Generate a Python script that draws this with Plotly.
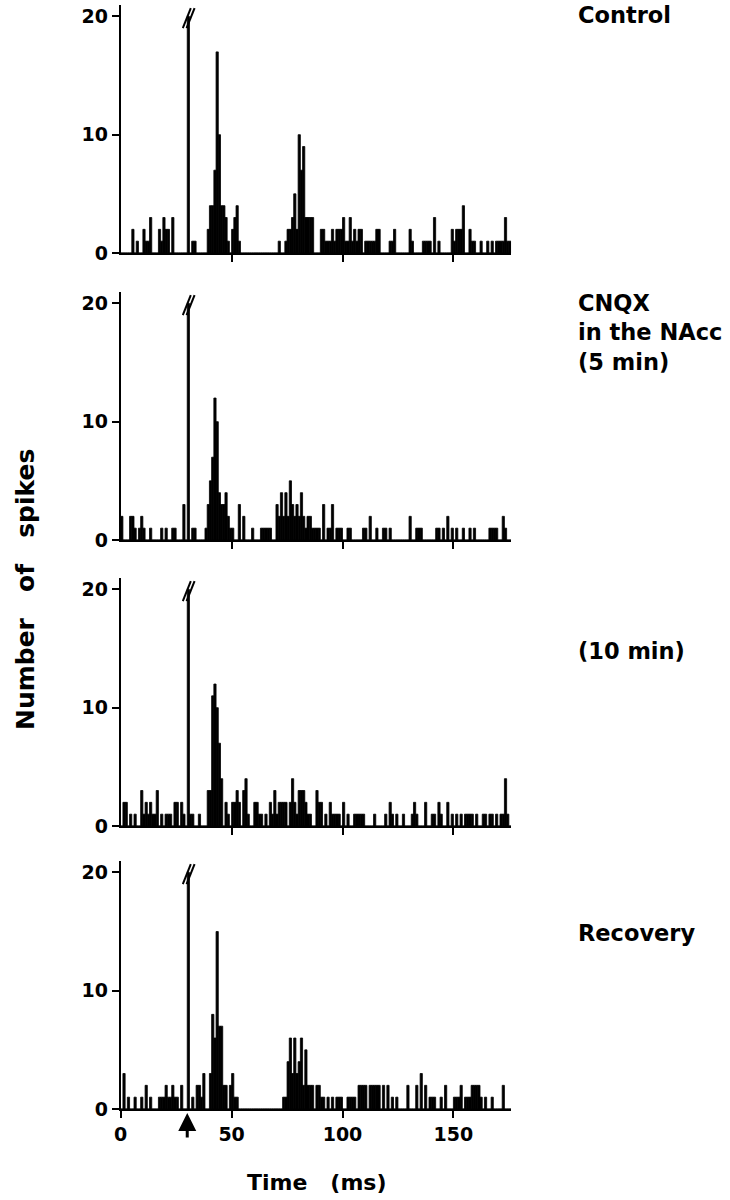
import plotly.graph_objects as go

# ---------------- data (1-ms bins, 0..175 ms) ----------------
BIN_MS = 1
TIME_MAX = 176
STIM_MS = 30

CONTROL = [
    0, 0, 0, 0, 0, 2, 0, 1, 0, 0, 2, 1, 1, 3, 0, 0, 0, 2, 1, 3,
    2, 2, 0, 3, 0, 0, 0, 0, 0, 0, 20, 0, 1, 1, 0, 0, 0, 0, 0, 2,
    4, 4, 7, 17, 10, 4, 4, 3, 1, 0, 2, 3, 4, 1, 0, 0, 0, 0, 0, 0,
    0, 0, 0, 0, 0, 0, 0, 0, 0, 0, 0, 1, 0, 0, 1, 2, 2, 3, 5, 2,
    10, 7, 9, 3, 3, 3, 3, 0, 0, 0, 2, 2, 1, 1, 1, 2, 1, 2, 2, 2,
    3, 1, 1, 3, 1, 2, 1, 2, 2, 0, 1, 1, 1, 1, 1, 2, 2, 0, 0, 0,
    0, 1, 1, 2, 0, 0, 0, 0, 0, 0, 2, 1, 0, 0, 0, 0, 1, 1, 1, 1,
    0, 3, 0, 1, 0, 0, 0, 0, 0, 2, 1, 2, 2, 2, 4, 0, 0, 2, 1, 1,
    0, 0, 1, 0, 0, 1, 0, 1, 0, 1, 1, 1, 1, 3, 1, 1,
]
CNQX_5MIN = [
    2, 0, 0, 0, 2, 2, 1, 0, 1, 2, 1, 0, 0, 1, 0, 0, 0, 0, 1, 0,
    1, 0, 0, 1, 1, 0, 0, 0, 3, 0, 20, 0, 1, 1, 0, 0, 0, 0, 1, 3,
    5, 7, 12, 10, 4, 3, 3, 4, 2, 1, 1, 0, 0, 3, 0, 2, 0, 0, 0, 1,
    0, 0, 0, 1, 1, 1, 1, 1, 0, 0, 3, 2, 4, 2, 4, 2, 5, 3, 2, 3,
    2, 4, 2, 1, 2, 2, 1, 1, 1, 1, 0, 3, 0, 1, 1, 3, 0, 1, 1, 1,
    0, 0, 1, 1, 0, 0, 0, 0, 0, 1, 1, 0, 2, 0, 0, 1, 0, 0, 1, 1,
    0, 1, 0, 0, 0, 0, 0, 0, 0, 0, 2, 0, 0, 1, 1, 1, 0, 0, 0, 0,
    0, 0, 1, 1, 0, 1, 0, 2, 0, 1, 0, 1, 0, 0, 1, 0, 0, 1, 0, 1,
    0, 0, 0, 0, 0, 0, 1, 1, 1, 1, 0, 0, 2, 1, 0, 0,
]
CNQX_10MIN = [
    0, 2, 2, 0, 1, 0, 1, 0, 0, 3, 1, 2, 1, 2, 1, 1, 3, 0, 1, 0,
    1, 1, 1, 0, 2, 2, 0, 2, 1, 0, 20, 1, 1, 0, 0, 1, 0, 0, 0, 3,
    3, 11, 12, 10, 7, 4, 0, 2, 1, 0, 2, 2, 3, 2, 0, 3, 4, 1, 0, 0,
    2, 2, 1, 1, 0, 1, 0, 2, 1, 3, 1, 2, 2, 2, 2, 0, 2, 4, 2, 1,
    3, 3, 3, 2, 1, 1, 0, 0, 3, 2, 2, 0, 1, 0, 2, 1, 1, 1, 1, 0,
    2, 0, 1, 0, 0, 1, 1, 1, 1, 1, 0, 0, 0, 0, 1, 0, 0, 0, 0, 1,
    0, 2, 1, 0, 1, 0, 0, 1, 0, 0, 0, 1, 2, 1, 0, 0, 0, 2, 0, 0,
    1, 1, 0, 2, 1, 0, 0, 2, 0, 1, 0, 1, 0, 1, 0, 1, 1, 1, 1, 0,
    1, 0, 0, 1, 1, 0, 1, 1, 0, 1, 0, 1, 1, 4, 1, 0,
]
RECOVERY = [
    0, 3, 0, 1, 0, 0, 1, 0, 0, 1, 0, 2, 0, 1, 0, 0, 0, 1, 1, 1,
    2, 1, 1, 2, 1, 1, 0, 2, 0, 0, 20, 0, 1, 0, 2, 2, 1, 3, 0, 0,
    3, 8, 6, 15, 7, 7, 2, 2, 0, 2, 3, 1, 1, 0, 0, 0, 0, 0, 0, 0,
    0, 0, 0, 0, 0, 0, 0, 0, 0, 0, 0, 0, 0, 1, 1, 4, 6, 3, 6, 3,
    4, 6, 2, 5, 2, 2, 2, 0, 2, 2, 1, 1, 0, 1, 0, 1, 0, 1, 1, 1,
    0, 0, 1, 1, 1, 1, 0, 2, 2, 2, 2, 0, 2, 2, 2, 2, 2, 0, 2, 0,
    2, 0, 1, 0, 1, 0, 0, 0, 0, 2, 0, 0, 0, 2, 0, 3, 0, 2, 0, 1,
    1, 1, 0, 0, 1, 0, 2, 0, 0, 0, 1, 1, 1, 2, 0, 1, 1, 1, 2, 2,
    2, 2, 1, 0, 1, 0, 0, 1, 0, 0, 0, 0, 2, 0, 0, 0,
]

SERIES = [CONTROL, CNQX_5MIN, CNQX_10MIN, RECOVERY]
PANEL_LABELS = ["Control", "CNQX<br>in the NAcc<br>(5 min)", "(10 min)", "Recovery"]
Y_TICKS = [0, 10, 20]
X_TICKS = [0, 50, 100, 150]
Y_MAX = 21

# ---------------- layout geometry (page pixels) ----------------
W, H = 730, 1200
PAGE_OFF = 0            # body margin is removed below, so page px == figure px
X0_PX = 120.7
PX_PER_MS = 2.218
PX_PER_UNIT = 11.83
BOTTOMS_PX = [253, 540, 826, 1109]
LABEL_X_PX = 576
LABEL_Y_PX = [(14.5, "middle"), (288, "top"), (651, "middle"), (933, "middle")]


def px_x(p):
    return (p - PAGE_OFF) / W


def px_y(p):
    return 1 - (p - PAGE_OFF) / H


FONT = "DejaVu Sans"
TICKFONT = dict(family=FONT, size=19, color="black", weight="bold")

x_domain = [px_x(X0_PX), px_x(X0_PX + TIME_MAX * PX_PER_MS)]

fig = go.Figure()
shapes = []
annotations = []

for i, counts in enumerate(SERIES):
    n = i + 1
    xa = "x" if n == 1 else f"x{n}"
    ya = "y" if n == 1 else f"y{n}"
    xkey = "xaxis" if n == 1 else f"xaxis{n}"
    ykey = "yaxis" if n == 1 else f"yaxis{n}"

    fig.add_trace(go.Bar(
        x=[k * BIN_MS + BIN_MS / 2 for k in range(len(counts))],
        y=counts,
        width=BIN_MS,
        marker=dict(color="black", line=dict(color="black", width=0.8)),
        xaxis=xa, yaxis=ya, showlegend=False, hoverinfo="skip",
    ))

    b = BOTTOMS_PX[i]
    y_top = min(Y_MAX, (b - PAGE_OFF) / PX_PER_UNIT)
    y_domain = [px_y(b), min(1.0, px_y(b - y_top * PX_PER_UNIT))]
    last = (n == 4)
    fig.layout[xkey] = dict(
        domain=x_domain, anchor=ya, range=[0, TIME_MAX], automargin=False,
        showline=True, linecolor="black", linewidth=2,
        ticks="outside", ticklen=7, tickwidth=2, tickcolor="black",
        tickvals=X_TICKS if last else X_TICKS[1:],
        showticklabels=last, tickfont=TICKFONT, ticklabeloverflow="allow",
        showgrid=False, zeroline=False, fixedrange=True,
    )
    fig.layout[ykey] = dict(
        domain=y_domain, anchor=xa, range=[0, y_top], automargin=False,
        showline=True, linecolor="black", linewidth=2,
        ticks="outside", ticklen=7, tickwidth=2, tickcolor="black",
        tickvals=Y_TICKS, tickfont=TICKFONT, ticklabeloverflow="allow",
        showgrid=False, zeroline=False, fixedrange=True,
    )

    # axis-break marks "//" above the stimulus-artifact bar
    for dx in (0.0, 1.7):
        shapes.append(dict(
            type="line", xref=xa, yref=ya,
            x0=STIM_MS - 2.0 + dx, y0=19.0, x1=STIM_MS + 1.6 + dx, y1=20.7,
            line=dict(color="black", width=2),
        ))

    ly, anch = LABEL_Y_PX[i]
    annotations.append(dict(
        text=PANEL_LABELS[i], xref="paper", yref="paper",
        x=px_x(LABEL_X_PX), y=px_y(ly), xanchor="left", yanchor=anch, align="left",
        showarrow=False, font=dict(family=FONT, size=22.5, color="black", weight="bold"),
    ))

# stimulus arrow below the last panel
annotations.append(dict(
    text="", xref="x4", yref="paper", x=STIM_MS, y=px_y(1113),
    showarrow=True, ax=0, ay=26, arrowhead=2, arrowsize=1.2, arrowwidth=3,
    arrowcolor="black",
))

# axis titles
annotations.append(dict(
    text="Number   of   spikes", xref="paper", yref="paper",
    x=px_x(25), y=px_y(590), textangle=-90, xanchor="center", yanchor="middle",
    showarrow=False, font=dict(family=FONT, size=25, color="black", weight="bold"),
))
annotations.append(dict(
    text="Time   (ms)", xref="paper", yref="paper",
    x=px_x(316.7), y=px_y(1182), xanchor="center", yanchor="middle",
    showarrow=False, font=dict(family=FONT, size=22, color="black", weight="bold"),
))

fig.update_layout(
    template="none",
    width=W, height=H,
    margin=dict(l=0, r=0, t=0, b=0, pad=0),
    paper_bgcolor="white", plot_bgcolor="white",
    bargap=0, barmode="overlay",
    shapes=shapes, annotations=annotations,
    showlegend=False,
)

fig.write_html(
    "out.html",
    config={"displayModeBar": False, "staticPlot": True},
    post_script="document.body.style.margin = '0';",
)
